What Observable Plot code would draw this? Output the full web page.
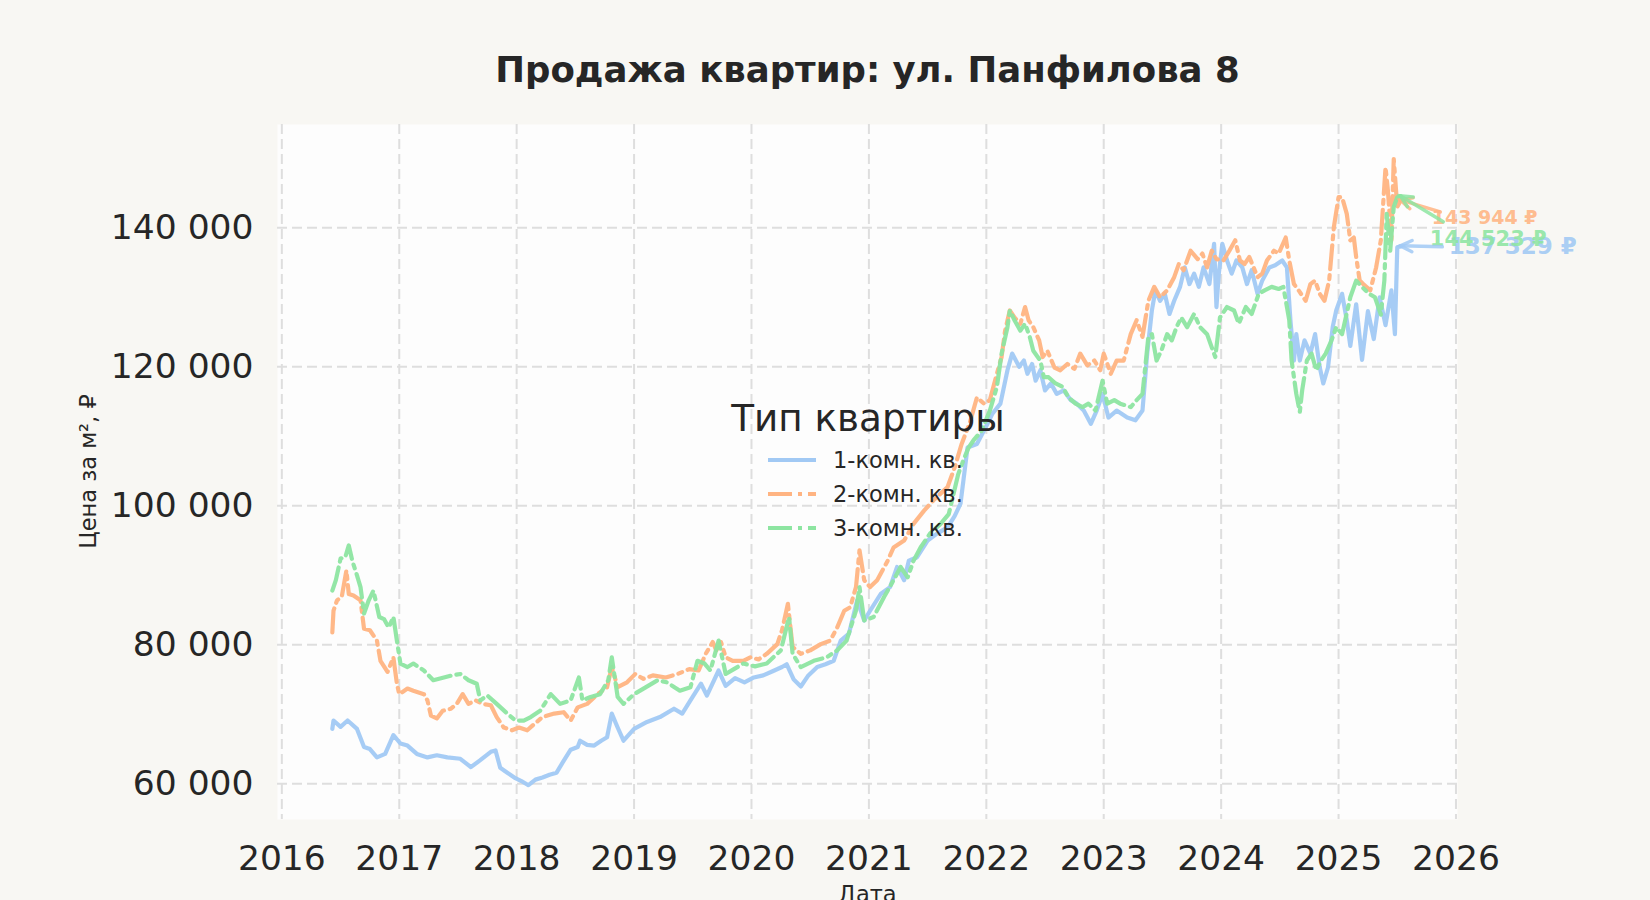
<!DOCTYPE html>
<html>
<head>
<meta charset="utf-8">
<script src="https://cdn.jsdelivr.net/npm/d3@7"></script>
<script src="https://cdn.jsdelivr.net/npm/@observablehq/plot@0.6"></script>
<style>
  html, body { margin: 0; padding: 0; background: #f8f7f3; }
  #chart { width: 1650px; height: 900px; overflow: hidden; }
  svg { display: block; }
</style>
</head>
<body>
<div id="chart"></div>
<script>
const chartTitle = "Продажа квартир: ул. Панфилова 8";
const yLabel = "Цена за м², ₽";
const xLabel = "Дата";
const legendTitle = "Тип квартиры";
const seriesNames = ["1-комн. кв.", "2-комн. кв.", "3-комн. кв."];
const seriesColors = ["#a1c9f4", "#ffb482", "#8de5a1"];
const seriesDash = [null, "24,6,4,6", "24,6,4,6"];
const xTicks = [2016, 2017, 2018, 2019, 2020, 2021, 2022, 2023, 2024, 2025, 2026];
const yTicks = [60000, 80000, 100000, 120000, 140000];
const lastLabels = ["137 329 ₽", "143 944 ₽", "144 523 ₽"];

// 1-комн. кв. (decimal year, price in thousand ₽)
const dates1 = [2016.43,2016.44,2016.50,2016.56,2016.64,2016.70,2016.75,2016.81,2016.88,2016.95,
2017.01,2017.07,2017.15,2017.24,2017.32,2017.41,2017.52,2017.61,2017.69,2017.78,2017.82,2017.86,2017.92,2017.98,
2018.04,2018.10,2018.16,2018.22,2018.28,2018.34,2018.40,2018.46,2018.52,2018.54,2018.60,2018.66,2018.72,2018.77,2018.81,2018.86,2018.91,
2019.00,2019.11,2019.22,2019.34,2019.41,2019.48,2019.57,2019.62,2019.72,2019.78,2019.86,2019.94,
2020.02,2020.10,2020.18,2020.26,2020.30,2020.36,2020.42,2020.48,2020.56,2020.63,2020.70,2020.76,2020.83,2020.90,2020.96,
2021.01,2021.10,2021.18,2021.24,2021.30,2021.34,2021.41,2021.50,2021.58,2021.67,2021.73,2021.78,2021.84,2021.92,
2022.01,2022.05,2022.12,2022.18,2022.22,2022.28,2022.32,2022.35,2022.39,2022.42,2022.46,2022.50,2022.55,2022.60,2022.66,2022.72,2022.77,2022.83,2022.89,2022.94,2022.99,
2023.04,2023.11,2023.20,2023.27,2023.33,2023.37,2023.41,2023.44,2023.48,2023.52,2023.56,2023.60,2023.65,2023.69,2023.73,2023.77,2023.81,2023.85,2023.90,2023.94,2023.96,2023.98,
2024.01,2024.05,2024.09,2024.13,2024.18,2024.22,2024.26,2024.31,2024.35,2024.41,2024.46,2024.52,2024.56,2024.59,2024.62,2024.64,2024.67,2024.71,2024.76,2024.80,2024.84,2024.87,2024.91,2024.95,2024.98,
2025.03,2025.07,2025.10,2025.15,2025.20,2025.25,2025.30,2025.35,2025.40,2025.45,2025.48,2025.50,2025.53];
const prices1 = [67.9,69.1,68.2,69.1,67.9,65.3,65.0,63.8,64.3,67.0,
65.8,65.5,64.3,63.8,64.1,63.8,63.6,62.4,63.4,64.6,64.8,62.3,61.6,60.9,
60.4,59.8,60.6,60.9,61.3,61.6,63.3,64.9,65.3,66.2,65.6,65.5,66.2,66.7,70.1,68.1,66.2,
67.9,68.9,69.6,70.8,70.1,72.0,74.4,72.7,76.3,74.1,75.2,74.6,
75.3,75.6,76.2,76.8,77.2,75.0,74.0,75.5,76.8,77.2,77.7,80.6,81.6,86.4,83.5,
84.9,87.3,88.3,91.2,89.3,92.1,92.6,95.0,96.0,96.9,98.5,100.3,108.4,108.9,
111.8,113.2,114.7,119.5,121.9,120.0,120.9,119.0,120.4,118.0,119.5,116.6,117.6,116.1,116.6,115.2,114.7,113.7,111.8,113.7,116.1,
112.7,113.7,112.7,112.3,113.7,121.9,128.1,131.0,129.5,130.5,127.6,129.5,131.5,134.3,131.9,133.4,131.5,134.3,131.9,137.7,128.6,133.4,
137.7,135.3,133.4,135.3,134.3,131.9,133.9,130.5,132.4,134.3,134.6,135.3,134.3,126.7,120.9,124.7,120.9,123.8,121.9,124.7,119.9,117.6,119.9,125.7,128.1,
130.5,126.7,123.0,129.0,121.0,128.0,124.0,130.0,126.0,131.0,124.7,137.2,137.329];

// 2-комн. кв.
const dates2 = [2016.43,2016.44,2016.47,2016.51,2016.55,2016.57,2016.61,2016.67,2016.70,2016.75,2016.81,2016.84,2016.90,2016.95,2016.98,
2017.00,2017.07,2017.12,2017.21,2017.24,2017.27,2017.32,2017.37,2017.44,2017.49,2017.54,2017.59,2017.65,2017.71,2017.78,2017.83,2017.89,2017.96,
2018.02,2018.09,2018.15,2018.22,2018.32,2018.40,2018.46,2018.52,2018.60,2018.69,2018.77,2018.81,2018.86,2018.94,
2019.01,2019.08,2019.16,2019.27,2019.37,2019.47,2019.55,2019.61,2019.67,2019.70,2019.74,2019.78,2019.84,2019.93,2019.99,
2020.06,2020.13,2020.22,2020.26,2020.31,2020.35,2020.42,2020.50,2020.59,2020.67,2020.73,2020.79,2020.84,2020.89,2020.92,2020.96,
2021.01,2021.07,2021.16,2021.21,2021.30,2021.38,2021.47,2021.55,2021.67,2021.73,2021.79,2021.86,2021.92,2021.98,
2022.03,2022.09,2022.13,2022.16,2022.20,2022.24,2022.29,2022.33,2022.36,2022.40,2022.45,2022.48,2022.52,2022.58,2022.63,2022.69,2022.75,2022.80,2022.86,2022.92,2022.97,
2023.00,2023.06,2023.11,2023.17,2023.23,2023.28,2023.33,2023.38,2023.43,2023.48,2023.54,2023.60,2023.64,2023.68,2023.74,2023.80,2023.84,2023.88,2023.92,2023.96,
2024.02,2024.07,2024.12,2024.16,2024.20,2024.24,2024.31,2024.35,2024.39,2024.45,2024.49,2024.55,2024.58,2024.62,2024.66,2024.72,2024.76,2024.80,2024.84,2024.88,2024.92,2024.96,
2025.00,2025.03,2025.07,2025.10,2025.13,2025.15,2025.18,2025.21,2025.27,2025.32,2025.36,2025.40,2025.42,2025.45,2025.47,2025.50,2025.53];
const prices2 = [81.8,84.9,86.4,86.9,90.7,87.3,87.1,86.4,82.3,82.1,80.6,77.7,76.1,78.2,74.4,
72.9,73.7,73.4,72.9,72.0,69.8,69.4,70.5,70.8,71.5,72.9,71.5,72.0,71.5,71.3,69.6,68.1,67.7,
68.1,67.7,68.6,69.6,70.1,70.3,69.1,71.0,71.5,72.9,73.9,76.8,73.9,74.6,
75.8,75.1,75.6,75.3,75.8,76.5,76.3,78.7,80.4,79.2,80.4,78.2,77.7,77.7,78.2,
77.9,78.7,80.1,82.1,85.9,79.7,78.7,79.2,80.1,80.6,82.5,84.9,85.4,88.3,93.6,89.3,
88.3,89.3,92.1,94.0,95.0,97.4,99.3,100.8,102.7,105.5,108.9,112.0,115.6,114.7,
115.2,119.0,121.4,125.2,128.1,127.1,126.2,128.6,126.7,125.7,123.8,121.4,122.3,119.9,119.5,120.4,119.7,121.9,120.2,120.9,119.5,
121.9,119.0,120.9,120.9,124.7,126.7,124.3,129.5,131.5,130.0,131.0,132.9,134.8,133.9,136.7,135.5,136.3,134.3,136.7,135.5,
135.3,136.7,138.2,135.3,134.8,135.8,132.9,133.4,135.3,136.7,136.3,138.6,135.3,131.9,131.0,129.5,131.9,132.4,130.5,129.5,132.4,140.1,
144.4,144.4,142.0,138.2,138.6,135.8,132.4,131.9,131.0,134.3,138.2,148.7,145.4,138.2,149.9,143.0,143.944];

// 3-комн. кв.
const dates3 = [2016.43,2016.46,2016.50,2016.54,2016.57,2016.60,2016.64,2016.67,2016.70,2016.74,2016.78,2016.83,2016.87,2016.91,2016.95,2016.98,
2017.01,2017.07,2017.12,2017.21,2017.29,2017.38,2017.45,2017.52,2017.59,2017.66,2017.69,2017.75,2017.83,2017.92,2017.99,
2018.06,2018.12,2018.20,2018.29,2018.37,2018.46,2018.53,2018.56,2018.63,2018.71,2018.78,2018.81,2018.86,2018.91,
2019.00,2019.08,2019.20,2019.28,2019.39,2019.48,2019.54,2019.60,2019.65,2019.72,2019.78,2019.85,2019.93,
2020.03,2020.13,2020.25,2020.32,2020.35,2020.42,2020.53,2020.64,2020.73,2020.81,2020.89,2020.92,2020.96,
2021.04,2021.13,2021.21,2021.27,2021.33,2021.38,2021.44,2021.52,2021.61,2021.68,2021.76,2021.81,2021.85,2021.89,2021.96,
2022.03,2022.09,2022.13,2022.18,2022.20,2022.24,2022.29,2022.33,2022.37,2022.40,2022.46,2022.49,2022.53,2022.59,2022.65,2022.70,2022.76,2022.82,2022.87,2022.93,2022.99,
2023.03,2023.09,2023.14,2023.23,2023.28,2023.33,2023.38,2023.41,2023.45,2023.49,2023.54,2023.58,2023.62,2023.66,2023.71,2023.77,2023.82,2023.88,2023.92,2023.95,2023.99,
2024.05,2024.11,2024.15,2024.21,2024.26,2024.32,2024.37,2024.43,2024.49,2024.53,2024.58,2024.60,2024.64,2024.67,2024.69,2024.73,2024.77,2024.81,2024.85,2024.89,2024.94,2024.98,
2025.03,2025.10,2025.15,2025.20,2025.26,2025.31,2025.36,2025.39,2025.41,2025.44,2025.47,2025.50,2025.53];
const prices3 = [87.8,89.3,92.4,92.6,94.3,92.1,90.0,88.3,84.5,86.4,87.8,84.0,83.7,82.5,84.0,80.6,
77.3,76.8,77.3,76.3,74.9,75.3,75.6,75.8,74.9,74.4,72.0,72.7,71.5,70.1,69.1,
69.1,69.6,70.5,72.9,71.5,72.0,75.3,72.0,72.5,72.9,74.9,78.2,72.5,71.5,
72.9,73.7,74.9,74.6,73.4,73.9,77.7,77.3,76.3,80.6,75.8,76.5,77.3,
76.9,77.3,79.2,84.0,78.7,76.8,77.7,78.2,79.2,80.6,84.9,88.3,83.5,
84.0,86.9,89.3,91.2,89.7,92.1,94.0,96.0,97.4,98.8,104.5,106.8,108.4,109.4,110.8,
113.7,117.1,121.9,125.7,128.1,126.7,125.2,126.2,124.3,122.3,120.9,118.5,118.5,117.6,117.1,115.6,114.7,114.2,114.7,113.7,118.0,
114.7,115.2,114.7,114.2,115.2,116.1,124.3,124.7,120.9,122.3,124.7,123.8,125.7,127.1,125.7,127.6,125.7,124.7,122.8,121.4,127.1,
128.6,128.1,126.2,128.6,127.6,130.5,131.0,131.5,131.2,131.5,126.7,120.9,116.1,113.5,116.6,120.9,121.9,119.5,120.9,121.9,123.8,125.7,
124.7,130.0,132.4,131.5,130.5,130.0,127.5,132.4,142.0,136.7,143.0,144.4,144.523];

const seriesDates = [dates1, dates2, dates3];
const seriesPrices = [prices1, prices2, prices3];

const rows = seriesNames.map((name, i) =>
  seriesDates[i].map((d, j) => ({date: d, price: seriesPrices[i][j] * 1000, type: name}))
);
const lastPoints = rows.map((r, i) => ({...r[r.length - 1], label: lastLabels[i], color: seriesColors[i]}));

const fmtY = d => d3.format(",")(d).replace(/,/g, " ");
const FONT = "DejaVu Sans, sans-serif";
const INK = "#262626";
const LW = 4.2;
const gridStyle = {stroke: "#dedede", strokeOpacity: 1, strokeWidth: 2, strokeDasharray: "10,5"};

// label styles per series: [dx, dy, fontSize]
const labelStyle = [[48, 0, 23], [31, 18, 19], [29, 43, 21]];
const arrowStart = [[42, 1], [40, 12], [43, 26]];

const plot = Plot.plot({
  width: 1650,
  height: 900,
  marginLeft: 277,
  marginRight: 193,
  marginTop: 124,
  marginBottom: 81,
  style: {background: "transparent", fontFamily: FONT, color: INK, overflow: "visible"},
  x: {domain: [2015.963, 2026.013]},
  y: {domain: [54863, 154863]},
  marks: [
    Plot.frame({fill: "#fdfdfd", stroke: null}),
    Plot.gridX(xTicks, gridStyle),
    Plot.gridY(yTicks, gridStyle),
    Plot.axisX(xTicks, {tickSize: 0, tickPadding: 26, fontSize: 34.5, tickFormat: d => String(d), label: null, fill: INK}),
    Plot.axisY(yTicks, {tickSize: 0, tickPadding: 24, fontSize: 34.5, tickFormat: fmtY, label: null, fill: INK}),
    ...rows.map((r, i) => Plot.line(r, {
      x: "date", y: "price",
      stroke: seriesColors[i], strokeWidth: LW, strokeOpacity: 0.95,
      strokeDasharray: seriesDash[i], strokeLinejoin: "round"
    })),
    ...lastPoints.map((p, i) => Plot.text([p], {
      x: "date", y: "price", text: "label",
      dx: labelStyle[i][0], dy: labelStyle[i][1], fontSize: labelStyle[i][2],
      fontWeight: "bold", fill: seriesColors[i], fillOpacity: 0.9, textAnchor: "start"
    }))
  ]
});

const svg = d3.select(plot);
const sx = plot.scale("x"), sy = plot.scale("y");

// arrows from labels to last points
[1, 2, 0].forEach(i => {
  const p = lastPoints[i];
  const x2 = sx.apply(p.date), y2 = sy.apply(p.price);
  const x1 = x2 + arrowStart[i][0], y1 = y2 + arrowStart[i][1];
  const ang = Math.atan2(y2 - y1, x2 - x1);
  const L = 13, a = 0.45;
  const g = svg.append("g").attr("stroke", seriesColors[i]).attr("stroke-width", 3.5)
    .attr("stroke-opacity", 0.85).attr("fill", "none").attr("stroke-linecap", "round");
  g.append("line").attr("x1", x1).attr("y1", y1).attr("x2", x2).attr("y2", y2);
  g.append("path").attr("d",
    `M${x2 - L * Math.cos(ang - a)},${y2 - L * Math.sin(ang - a)}L${x2},${y2}L${x2 - L * Math.cos(ang + a)},${y2 - L * Math.sin(ang + a)}`);
});

// title
svg.append("text").attr("x", 867.5).attr("y", 82).attr("text-anchor", "middle")
  .attr("font-family", FONT).attr("font-weight", "bold").attr("font-size", 35.5).attr("fill", INK)
  .text(chartTitle);

// axis labels
svg.append("text").attr("transform", "translate(96,471.5) rotate(-90)").attr("text-anchor", "middle")
  .attr("font-family", FONT).attr("font-size", 22.5).attr("fill", INK).text(yLabel);
svg.append("text").attr("x", 867.5).attr("y", 902).attr("text-anchor", "middle")
  .attr("font-family", FONT).attr("font-size", 22.5).attr("fill", INK).text(xLabel);

// legend
const lg = svg.append("g").attr("font-family", FONT).attr("fill", INK);
lg.append("text").attr("x", 868).attr("y", 418).attr("dy", "0.36em").attr("text-anchor", "middle")
  .attr("font-size", 37.3).text(legendTitle);
seriesNames.forEach((name, i) => {
  const yy = 460 + i * 34;
  lg.append("line").attr("x1", 768).attr("x2", 816).attr("y1", yy).attr("y2", yy)
    .attr("stroke", seriesColors[i]).attr("stroke-width", LW)
    .attr("stroke-dasharray", seriesDash[i]);
  lg.append("text").attr("x", 833).attr("y", yy).attr("dy", "0.36em").attr("text-anchor", "start")
    .attr("font-size", 22.5).text(name);
});

document.getElementById("chart").appendChild(plot);
</script>
</body>
</html>
